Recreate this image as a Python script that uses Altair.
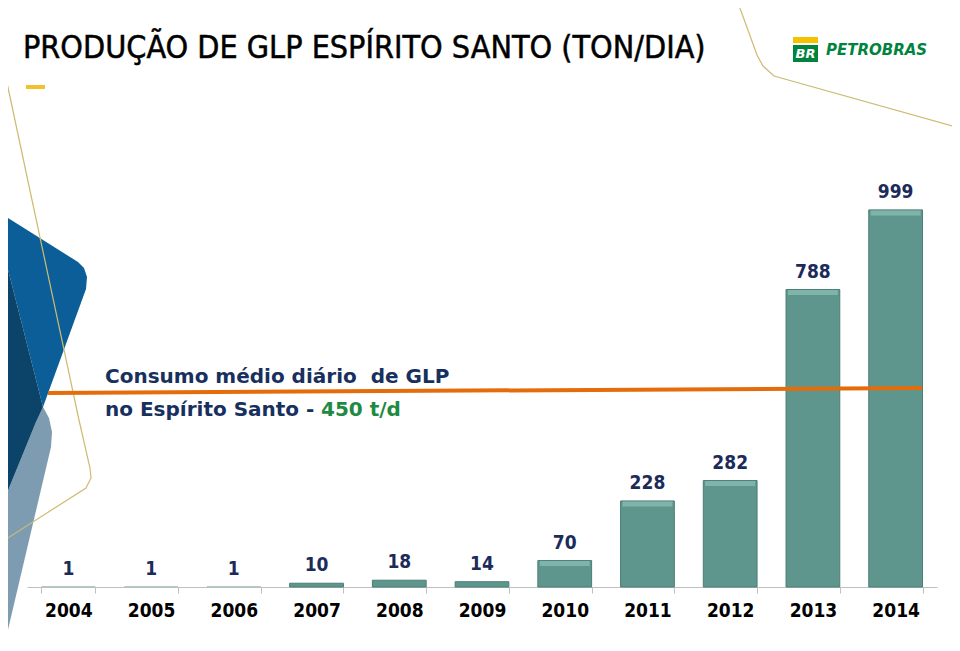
import altair as alt
import pandas as pd

# ---- data ----
years = ["2004", "2005", "2006", "2007", "2008", "2009", "2010", "2011", "2012", "2013", "2014"]
production = [1, 1, 1, 10, 18, 14, 70, 228, 282, 788, 999]

title_text = "PRODUÇÃO DE GLP ESPÍRITO SANTO (TON/DIA)"
note_line1 = "Consumo médio diário\u00a0 de GLP"
note_line2 = "no Espírito Santo -"
note_value = "450 t/d"

df = pd.DataFrame({"year": years, "value": production})

# ---- layout (plot-area origin on the page) ----
OX, OY = 27, 134
W, H = 910, 453


def pts(page_pts):
    return [[x - OX, y - OY] for x, y in page_pts]


# decorative background shapes (page pixel coordinates)
medium = [(0, 213), (78, 262), (84, 268), (87, 277), (86, 289), (43, 407), (0, 238), (0, 213)]
dark = [(0, 238), (43, 407), (36, 422), (0, 510), (0, 238)]
gray = [(0, 510), (36, 422), (43, 407), (49, 418), (52, 432), (51, 447), (3, 651), (0, 651), (0, 510)]
goldA = [(0, 50), (32, 200), (79, 420), (90, 468), (91, 478), (86, 488), (0, 543)]
goldB = [(737, 0), (757, 55), (763, 66), (774, 76), (960, 128)]

polys = [
    {"type": "Feature", "properties": {"c": "#0B5E97"},
     "geometry": {"type": "Polygon", "coordinates": [pts(medium)]}},
    {"type": "Feature", "properties": {"c": "#7E9CB1"},
     "geometry": {"type": "Polygon", "coordinates": [pts(gray)]}},
    {"type": "Feature", "properties": {"c": "#0B4468"},
     "geometry": {"type": "Polygon", "coordinates": [pts(dark)]}},
]
lines = [
    {"type": "Feature", "properties": {"c": "#CDBB72"},
     "geometry": {"type": "LineString", "coordinates": pts(goldA)}},
    {"type": "Feature", "properties": {"c": "#CDBB72"},
     "geometry": {"type": "LineString", "coordinates": pts(goldB)}},
]

proj = dict(type="identity", scale=1, translate=[0, 0])

deco_fill = alt.Chart(alt.Data(values=polys)).mark_geoshape(strokeWidth=0, clip=False).encode(
    color=alt.Color("properties.c:N", scale=None)
).project(**proj)

deco_line = alt.Chart(alt.Data(values=lines)).mark_geoshape(
    filled=False, strokeWidth=1.2, clip=False
).encode(
    stroke=alt.Stroke("properties.c:N", scale=None)
).project(**proj)

# ---- main chart ----
COND = "DejaVu Sans Condensed, Liberation Sans"
x_enc = alt.X(
    "year:O",
    sort=years,
    scale=alt.Scale(paddingInner=0.35, paddingOuter=0.175),
    axis=alt.Axis(
        title=None, labelAngle=0, tickBand="extent", domainColor="#BFBFBF",
        tickColor="#BFBFBF", tickSize=6, labelPadding=8,
        labelFont=COND, labelFontSize=19, labelColor="#000000",
        labelFontWeight="bold",
    ),
)
y_scale = alt.Scale(domain=[0, 1200])
y_enc = alt.Y("value:Q", scale=y_scale, axis=None)

base = alt.Chart(df)

bars = base.mark_bar(color="#5E968D", stroke="#4B7E75").encode(
    x=x_enc, y=y_enc,
    strokeWidth=alt.condition("datum.value < 5", alt.value(0), alt.value(1)),
)

bevel = base.transform_filter("datum.value >= 50").mark_tick(
    color="#8EC1B8", thickness=5, size=50, yOffset=3
).encode(x=x_enc, y=y_enc)

labels = base.mark_text(
    baseline="bottom", dy=-8, fontSize=19, fontWeight="bold", color="#1C2B5A",
    font=COND,
).encode(x=x_enc, y=y_enc, text="value:Q")

one = pd.DataFrame({"k": [0]})

cons_line = alt.Chart(one).mark_rule(color="#E46C0A", strokeWidth=4).encode(
    x=alt.value(48 - OX), x2=alt.value(922 - OX),
    y=alt.datum(514, scale=y_scale), y2=alt.datum(527),
)

title = alt.Chart(one).mark_text(
    text=title_text, align="left", baseline="middle", fontSize=32,
    font=COND, color="#000000", stroke="#000000", strokeWidth=0.5,
).encode(x=alt.value(23 - OX), y=alt.value(48 - OY))

dash = alt.Chart(one).mark_rect(color="#F2C12E").encode(
    x=alt.value(26 - OX), x2=alt.value(45 - OX), y=alt.value(85 - OY), y2=alt.value(89 - OY)
)

logo_y = alt.Chart(one).mark_rect(color="#F5C200").encode(
    x=alt.value(793 - OX), x2=alt.value(818 - OX), y=alt.value(37 - OY), y2=alt.value(43 - OY)
)
logo_g = alt.Chart(one).mark_rect(color="#00843D").encode(
    x=alt.value(793 - OX), x2=alt.value(818 - OX), y=alt.value(45 - OY), y2=alt.value(62 - OY)
)
logo_br = alt.Chart(one).mark_text(
    text="BR", color="white", fontSize=13, fontWeight="bold", fontStyle="italic",
    font="DejaVu Sans", align="center", baseline="middle",
).encode(x=alt.value(805.5 - OX), y=alt.value(54 - OY))
logo_txt = alt.Chart(one).mark_text(
    text="PETROBRAS", color="#00843D", fontSize=15, fontWeight="bold", fontStyle="italic",
    font="DejaVu Sans", align="left", baseline="middle",
).encode(x=alt.value(826 - OX), y=alt.value(50 - OY))

note_font = "DejaVu Sans"
note1 = alt.Chart(one).mark_text(
    text=note_line1, color="#17305E", fontSize=20, fontWeight="bold", font=note_font,
    align="left", baseline="middle",
).encode(x=alt.value(105 - OX), y=alt.value(377 - OY))
note2 = alt.Chart(one).mark_text(
    text=note_line2, color="#17305E", fontSize=20, fontWeight="bold", font=note_font,
    align="left", baseline="middle",
).encode(x=alt.value(105 - OX), y=alt.value(410 - OY))
note3 = alt.Chart(one).mark_text(
    text=note_value, color="#1F8A43", fontSize=20, fontWeight="bold", font=note_font,
    align="left", baseline="middle",
).encode(x=alt.value(321 - OX), y=alt.value(410 - OY))

chart = alt.layer(
    deco_fill, deco_line, bars, bevel, labels, cons_line,
    title, dash, logo_y, logo_g, logo_br, logo_txt, note1, note2, note3,
).properties(
    width=W, height=H,
    autosize="none",
    padding={"left": OX - 8, "top": OY - 8, "right": 944 - (OX - 8) - W, "bottom": 635 - (OY - 8) - H},
    background="white",
).configure_view(stroke=None)

chart.save("out.html", embed_options={"renderer": "svg", "actions": False})
